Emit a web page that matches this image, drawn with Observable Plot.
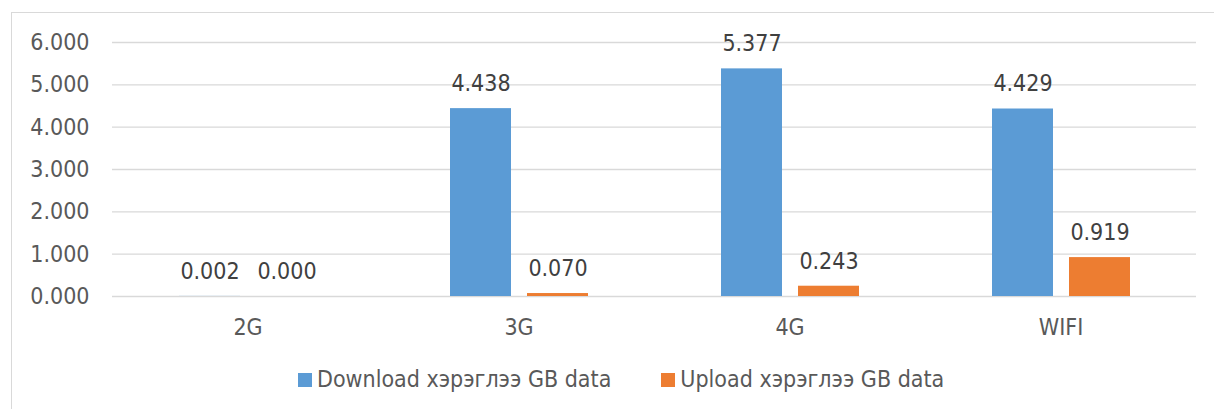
<!DOCTYPE html>
<html>
<head>
<meta charset="utf-8">
<script src="https://cdn.jsdelivr.net/npm/d3@7"></script>
<script src="https://cdn.jsdelivr.net/npm/@observablehq/plot@0.6"></script>
<style>
  html, body { margin: 0; padding: 0; background: #fff; overflow: hidden; width: 1214px; height: 409px; }
  #frame { position: absolute; left: 11px; top: 12px; width: 1300px; height: 500px; border: 1px solid #d9d9d9; box-sizing: border-box; }
  #chart { position: absolute; left: 0; top: 0; }
  #legend { position: absolute; left: 298px; top: 366px; height: 27px; line-height: 27px; display: flex; align-items: center; font-family: 'DejaVu Sans Condensed', 'DejaVu Sans', sans-serif; font-size: 23px; color: #595959; white-space: nowrap; }
  .item { display: flex; align-items: center; margin-right: 50px; }
  .sw { width: 14px; height: 14px; margin-right: 5px; }
</style>
</head>
<body>
<div id="frame"></div>
<div id="chart"></div>
<div id="legend"></div>
<script>
const categories = ["2G", "3G", "4G", "WIFI"];
const seriesNames = ["Download хэрэглээ GB data", "Upload хэрэглээ GB data"];
const download = [0.002, 4.438, 5.377, 4.429];
const upload = [0.000, 0.070, 0.243, 0.919];
const seriesColors = ["#5B9BD5", "#ED7D31"];
const yTicks = [0, 1, 2, 3, 4, 5, 6];

const data = [];
categories.forEach((c, i) => {
  data.push({cat: c, series: seriesNames[0], value: download[i]});
  data.push({cat: c, series: seriesNames[1], value: upload[i]});
});
const fmt = d3.format(".3f");

const chart = Plot.plot({
  width: 1214,
  height: 340,
  marginLeft: 111,
  marginRight: 17,
  marginTop: 42,
  marginBottom: 44,
  style: {fontFamily: "'DejaVu Sans Condensed', 'DejaVu Sans', sans-serif", fontSize: "23px", color: "#595959", background: "transparent"},
  fx: {domain: categories, padding: 0, label: null},
  x: {domain: seriesNames, paddingInner: 0.213, paddingOuter: 0.858, axis: null},
  y: {domain: [0, 6], label: null},
  color: {domain: seriesNames, range: seriesColors},
  marks: [
    Plot.gridY(yTicks, {stroke: "#d9d9d9", strokeOpacity: 1, strokeWidth: 1.3}),
    Plot.barY(data, {fx: "cat", x: "series", y: "value", fill: "series"}),
    Plot.text(data, {fx: "cat", x: "series", y: "value", text: d => fmt(d.value), dy: -25, fill: "#404040"}),
    Plot.axisY(yTicks, {tickSize: 0, tickPadding: 23, tickFormat: fmt, label: null}),
    Plot.axisFx({anchor: "bottom", tickSize: 0, tickPadding: 22, label: null})
  ]
});
document.getElementById("chart").appendChild(chart);

const legend = document.getElementById("legend");
seriesNames.forEach((s, i) => {
  const item = document.createElement("div");
  item.className = "item";
  const sw = document.createElement("div");
  sw.className = "sw";
  sw.style.background = seriesColors[i];
  const t = document.createElement("span");
  t.textContent = s;
  item.appendChild(sw);
  item.appendChild(t);
  legend.appendChild(item);
});
</script>
</body>
</html>
